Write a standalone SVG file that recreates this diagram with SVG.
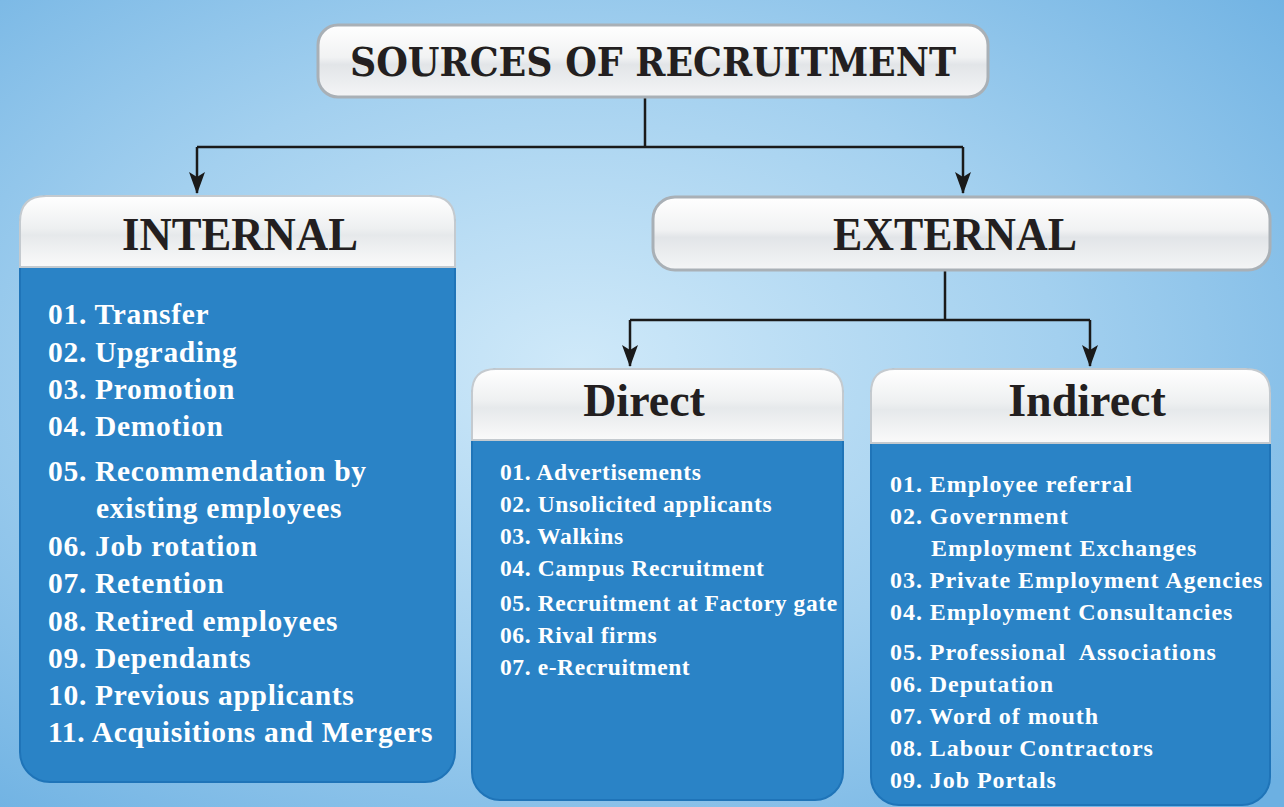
<svg xmlns="http://www.w3.org/2000/svg" width="1284" height="807" viewBox="0 0 1284 807">
<defs>
<radialGradient id="bg" cx="0.45" cy="0.45" r="0.75">
<stop offset="0" stop-color="#cfe9f9"/>
<stop offset="0.5" stop-color="#a3d0ef"/>
<stop offset="1" stop-color="#6cb0e2"/>
</radialGradient>
<linearGradient id="hdr" x1="0" y1="0" x2="0" y2="1">
<stop offset="0" stop-color="#ffffff"/>
<stop offset="0.45" stop-color="#eef0f1"/>
<stop offset="0.55" stop-color="#e6e9eb"/>
<stop offset="1" stop-color="#fafafa"/>
</linearGradient>
<linearGradient id="pill" x1="0" y1="0" x2="0" y2="1">
<stop offset="0" stop-color="#ffffff"/>
<stop offset="0.45" stop-color="#f1f2f3"/>
<stop offset="0.55" stop-color="#e2e5e8"/>
<stop offset="1" stop-color="#f4f5f6"/>
</linearGradient>
<marker id="arr" viewBox="0 0 22 16" refX="21" refY="8" markerWidth="22" markerHeight="16" markerUnits="userSpaceOnUse" orient="auto">
<path d="M0,0 L22,8 L0,16 L5,8 Z" fill="#1a1a1a"/>
</marker>
</defs>
<style>
.pill{fill:url(#pill);stroke:#a9b0b6;stroke-width:3}
.hdr{fill:url(#hdr);stroke:#c4cacf;stroke-width:2}
.body{fill:#2a83c6;stroke:#1f74b8;stroke-width:2}
.ttl{font-family:"Liberation Serif",serif;font-weight:bold;fill:#231f20;text-anchor:middle}
.top{font-family:"DejaVu Serif","Liberation Serif",serif;font-weight:bold;fill:#231f20;text-anchor:middle}
.it{font-family:"Liberation Serif",serif;font-weight:bold;fill:#ffffff}
.ln{fill:none;stroke:#1a1a1a;stroke-width:2.5}
</style>
<rect x="0" y="0" width="1284" height="807" fill="url(#bg)"/>

<g id="connectors">
<path class="ln" d="M645,97 V147"/>
<path class="ln" d="M197,147 H963"/>
<path class="ln" d="M197,147 V193" marker-end="url(#arr)"/>
<path class="ln" d="M963,147 V193" marker-end="url(#arr)"/>
<path class="ln" d="M945,270 V320"/>
<path class="ln" d="M630,320 H1090"/>
<path class="ln" d="M630,320 V366" marker-end="url(#arr)"/>
<path class="ln" d="M1090,320 V366" marker-end="url(#arr)"/>
</g>

<g id="title">
<rect class="pill" x="318" y="25" width="670" height="72" rx="20"/>
<text class="top" x="653" y="76" font-size="39" textLength="606" lengthAdjust="spacingAndGlyphs">SOURCES OF RECRUITMENT</text>
</g>

<g id="internal">
<rect class="body" x="20" y="196" width="435" height="586" rx="30"/>
<path class="hdr" d="M20,267 V222 Q20,196 46,196 H429 Q455,196 455,222 V267 Z"/>
<text class="ttl" x="240" y="250" font-size="46" textLength="236" lengthAdjust="spacingAndGlyphs">INTERNAL</text>
<g class="it" font-size="29.5" letter-spacing="0.7">
<text x="48" y="324">01. Transfer</text>
<text x="48" y="362">02. Upgrading</text>
<text x="48" y="399">03. Promotion</text>
<text x="48" y="436">04. Demotion</text>
<text x="48" y="481">05. Recommendation by</text>
<text x="96" y="518">existing employees</text>
<text x="48" y="556">06. Job rotation</text>
<text x="48" y="593">07. Retention</text>
<text x="48" y="631">08. Retired employees</text>
<text x="48" y="668">09. Dependants</text>
<text x="48" y="705">10. Previous applicants</text>
<text x="48" y="742">11. Acquisitions and Mergers</text>
</g>
</g>

<g id="external">
<rect class="pill" x="653" y="197" width="617" height="73" rx="22"/>
<text class="ttl" x="955" y="250" font-size="46" textLength="244" lengthAdjust="spacingAndGlyphs">EXTERNAL</text>
</g>

<g id="direct">
<rect class="body" x="472" y="369" width="371" height="431" rx="28"/>
<path class="hdr" d="M472,440 V393 Q472,369 496,369 H819 Q843,369 843,393 V440 Z"/>
<text class="ttl" x="644" y="416" font-size="46">Direct</text>
<g class="it" font-size="23.5" letter-spacing="0.6">
<text x="500" y="480">01. Advertisements</text>
<text x="500" y="512">02. Unsolicited applicants</text>
<text x="500" y="544">03. Walkins</text>
<text x="500" y="576">04. Campus Recruitment</text>
<text x="500" y="611">05. Recruitment at Factory gate</text>
<text x="500" y="643">06. Rival firms</text>
<text x="500" y="675">07. e-Recruitment</text>
</g>
</g>

<g id="indirect">
<rect class="body" x="871" y="369" width="399" height="436" rx="28"/>
<path class="hdr" d="M871,443 V393 Q871,369 895,369 H1246 Q1270,369 1270,393 V443 Z"/>
<text class="ttl" x="1087" y="416" font-size="46">Indirect</text>
<g class="it" font-size="24" letter-spacing="0.95">
<text x="890" y="492">01. Employee referral</text>
<text x="890" y="524">02. Government</text>
<text x="931" y="556">Employment Exchanges</text>
<text x="890" y="588">03. Private Employment Agencies</text>
<text x="890" y="620">04. Employment Consultancies</text>
<text x="890" y="660" xml:space="preserve">05. Professional  Associations</text>
<text x="890" y="692">06. Deputation</text>
<text x="890" y="724">07. Word of mouth</text>
<text x="890" y="756">08. Labour Contractors</text>
<text x="890" y="788">09. Job Portals</text>
</g>
</g>
</svg>
